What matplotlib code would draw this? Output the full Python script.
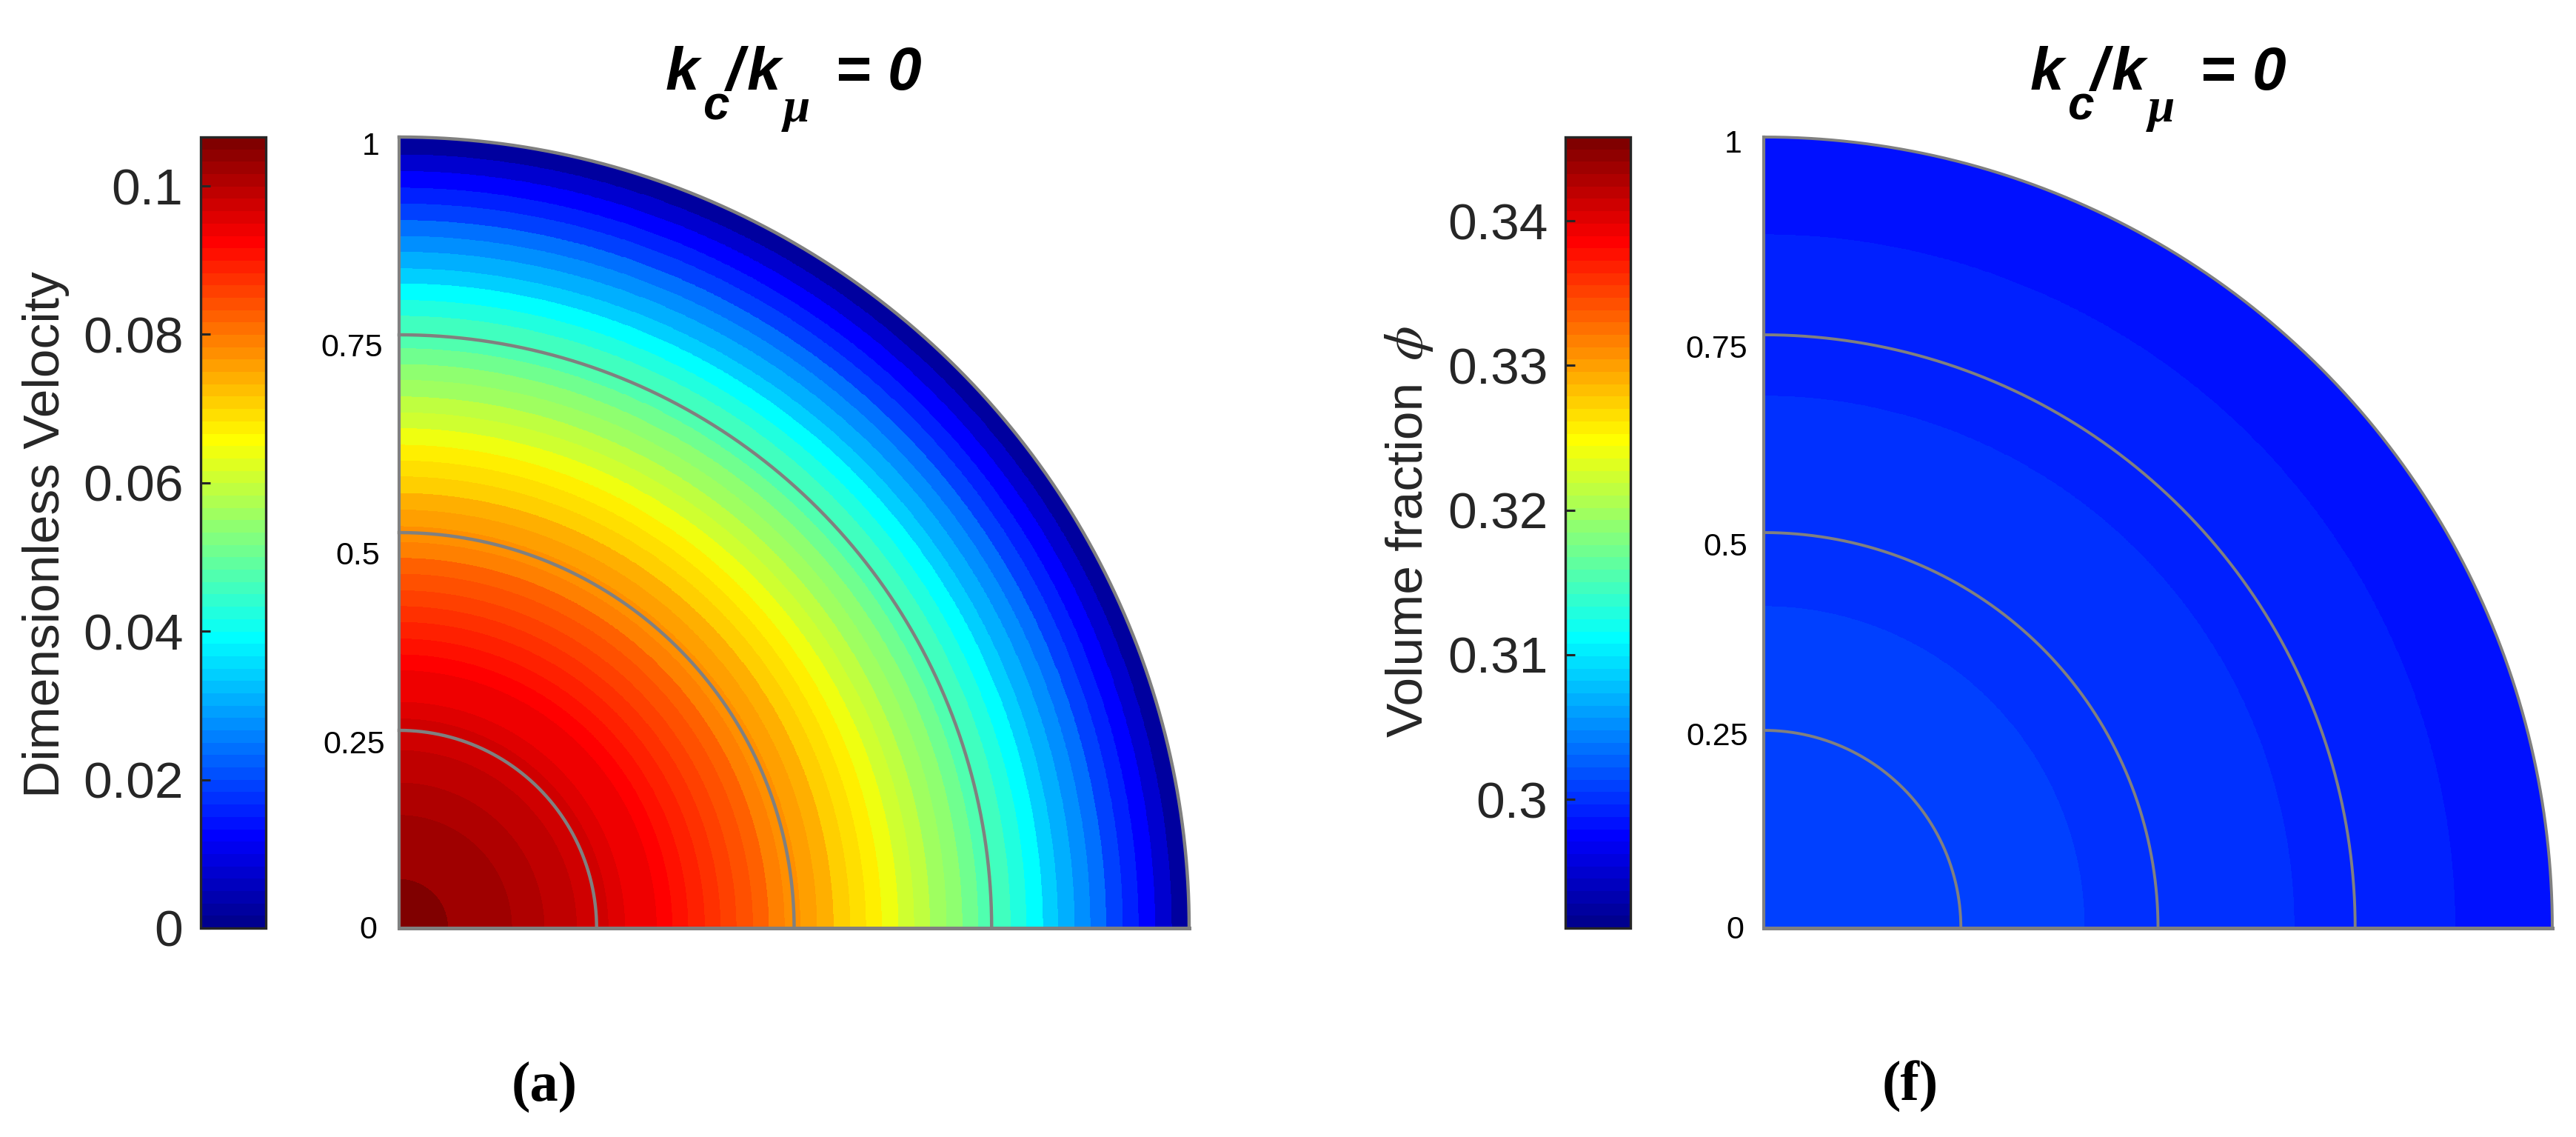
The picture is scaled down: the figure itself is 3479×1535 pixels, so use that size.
import numpy as np
import matplotlib
matplotlib.use("Agg")
import matplotlib.pyplot as plt
from matplotlib.colors import ListedColormap, Normalize
from matplotlib.cm import ScalarMappable

plt.rcParams['font.family'] = ['Liberation Sans', 'DejaVu Sans']

# Velocity bands, from the centre outwards
velocity_edges = [0, .062, .143, .184, .225, .265, .286, .326, .346, .366, .387,
                  .407, .427, .448, .468, .488, .508, .529, .550, .571, .591,
                  .611, .632, .652, .672, .693, .713, .733, .753, .774, .794,
                  .815, .834, .855, .875, .895, .916, .936, .957, .978, 1.0]
velocity_values = [.10577, .10244, .10077, .09910, .09744, .09577, .09411, .09244,
                   .09077, .08911, .08744, .08578, .08411, .08245, .07912, .07745,
                   .07578, .07412, .07079, .06912, .06746, .06413, .06079, .05913,
                   .05580, .05413, .05080, .04747, .04581, .04247, .03914, .03414,
                   .03081, .02748, .02415, .01915, .01582, .01249, .00750, .00250]
velocity_range = [0, .1066]
velocity_ticks = [0, .02, .04, .06, .08, .1]
velocity_ticklabels = ['0', '0.02', '0.04', '0.06', '0.08', '0.1']

# Volume fraction bands
phi_edges = [0, .407, .673, .877, 1.0]
phi_values = [.30093, .30008, .29922, .29837]
phi_range = [.2911, .3458]
phi_ticks = [.30, .31, .32, .33, .34]
phi_ticklabels = ['0.3', '0.31', '0.32', '0.33', '0.34']

circle_radii = [.25, .5, .75, 1]
radius_labels = ['0', '0.25', '0.5', '0.75', '1']

W, H = 3480, 1535
GREY = '#808080'
DARK = '#262626'


def matlab_jet(n=64):
    # same construction as jet(64) in MATLAB
    m = n // 4
    u = np.r_[np.arange(1, m + 1) / m, np.ones(m - 1), np.arange(m, 0, -1) / m]
    g = m // 2 + np.arange(1, len(u) + 1)
    r = g + m
    b = g - m
    out = np.zeros((n, 3))
    keep = r <= n
    out[r[keep] - 1, 0] = u[keep]
    out[g - 1, 1] = u
    keep = b >= 1
    out[b[keep] - 1, 2] = u[keep]
    return ListedColormap(out)


def box(x0, y0, x1, y1):
    return [x0 / W, 1 - y1 / H, (x1 - x0) / W, (y1 - y0) / H]


def put(x, y, s, **kw):
    return fig.text(x / W, 1 - y / H, s, **kw)


def draw_title(dx):
    big = dict(fontsize=59, fontweight='bold', style='italic', ha='left', va='baseline', color='black')
    put(899 + dx, 121, 'k', **big)
    put(980 + dx, 121, '/', **big)
    put(1009 + dx, 121, 'k', **big)
    put(1127 + dx, 121, '=', **big)
    put(1199 + dx, 121, '0', **big)
    put(949 + dx, 162, 'c', fontsize=46, fontweight='bold', style='italic', ha='left', va='baseline', color='black')
    put(1058 + dx, 164, 'μ', fontsize=47, fontweight='bold', style='italic', family='Liberation Serif',
        ha='left', va='baseline', color='black')


def draw_panel(ax_box, cbar_box, edges, values, vrange, ticks, ticklabels, arc_lw, label_spots):
    ax = fig.add_axes(box(*ax_box))
    norm = Normalize(*vrange)
    theta = np.linspace(0, np.pi / 2, 541)
    r = np.array(edges)
    X = np.outer(r, np.cos(theta))
    Y = np.outer(r, np.sin(theta))
    C = np.repeat(np.array(values)[:, None], len(theta) - 1, axis=1)
    ax.pcolormesh(X, Y, C, cmap=jet, norm=norm, shading='flat', antialiased=False, rasterized=True)

    for rad in circle_radii:
        ax.plot(rad * np.cos(theta), rad * np.sin(theta), color=GREY, lw=arc_lw, clip_on=False, zorder=3)
    ax.plot([0, 0], [0, 1], color=GREY, lw=3.0, clip_on=False, zorder=3, solid_capstyle='projecting')
    ax.plot([0, 1], [0, 0], color=GREY, lw=3.6, clip_on=False, zorder=3, solid_capstyle='projecting')
    ax.set_xlim(0, 1)
    ax.set_ylim(0, 1)
    ax.axis('off')

    # baseline sits 15 px under the middle of the digits
    for lab, (x, y) in zip(radius_labels, label_spots):
        put(x, y + 15, lab, fontsize=31, ha='right', va='baseline', color='black')

    cax = fig.add_axes(box(*cbar_box))
    cbar = fig.colorbar(ScalarMappable(norm=norm, cmap=jet), cax=cax)
    cbar.set_ticks(ticks, labels=ticklabels)
    cax.yaxis.set_ticks_position('left')
    cax.tick_params(axis='y', direction='in', length=9.4, width=2.2, color=DARK,
                    labelcolor=DARK, labelsize=50, pad=17)
    cax.minorticks_off()
    cbar.outline.set_edgecolor(DARK)
    cbar.outline.set_linewidth(2.4)


jet = matlab_jet(64)
fig = plt.figure(figsize=(W / 100, H / 100), dpi=100, facecolor='white')

draw_panel((539, 185, 1606, 1253), (271, 185, 359, 1253), velocity_edges, velocity_values,
           velocity_range, velocity_ticks, velocity_ticklabels, 3.2,
           [(509, 1252), (520, 1002), (513, 747), (517, 466), (513, 194)])
draw_panel((2382, 185, 3447, 1253), (2114, 185, 2202, 1253), phi_edges, phi_values,
           phi_range, phi_ticks, phi_ticklabels, 2.8,
           [(2355, 1252), (2361, 991), (2360, 735), (2360, 468), (2353, 191)])

draw_title(0)
draw_title(1843)

lab = dict(fontsize=50, color=DARK, rotation=90, ha='center', va='baseline', rotation_mode='anchor')
put(80, 722, 'Dimensionless Velocity', **lab)
put(1921, 755, 'Volume fraction', **lab)
put(1921, 464, r'$\phi$', fontsize=54, color=DARK, rotation=90, ha='center', va='baseline',
    rotation_mode='anchor', math_fontfamily='stix')

cap = dict(fontsize=55, fontweight='bold', family='Liberation Serif', ha='center', va='baseline', color='black')
put(735, 1486, '(a)', **cap)
put(2580, 1486, '(f)', **cap)

fig.savefig('out.png', dpi=100)
